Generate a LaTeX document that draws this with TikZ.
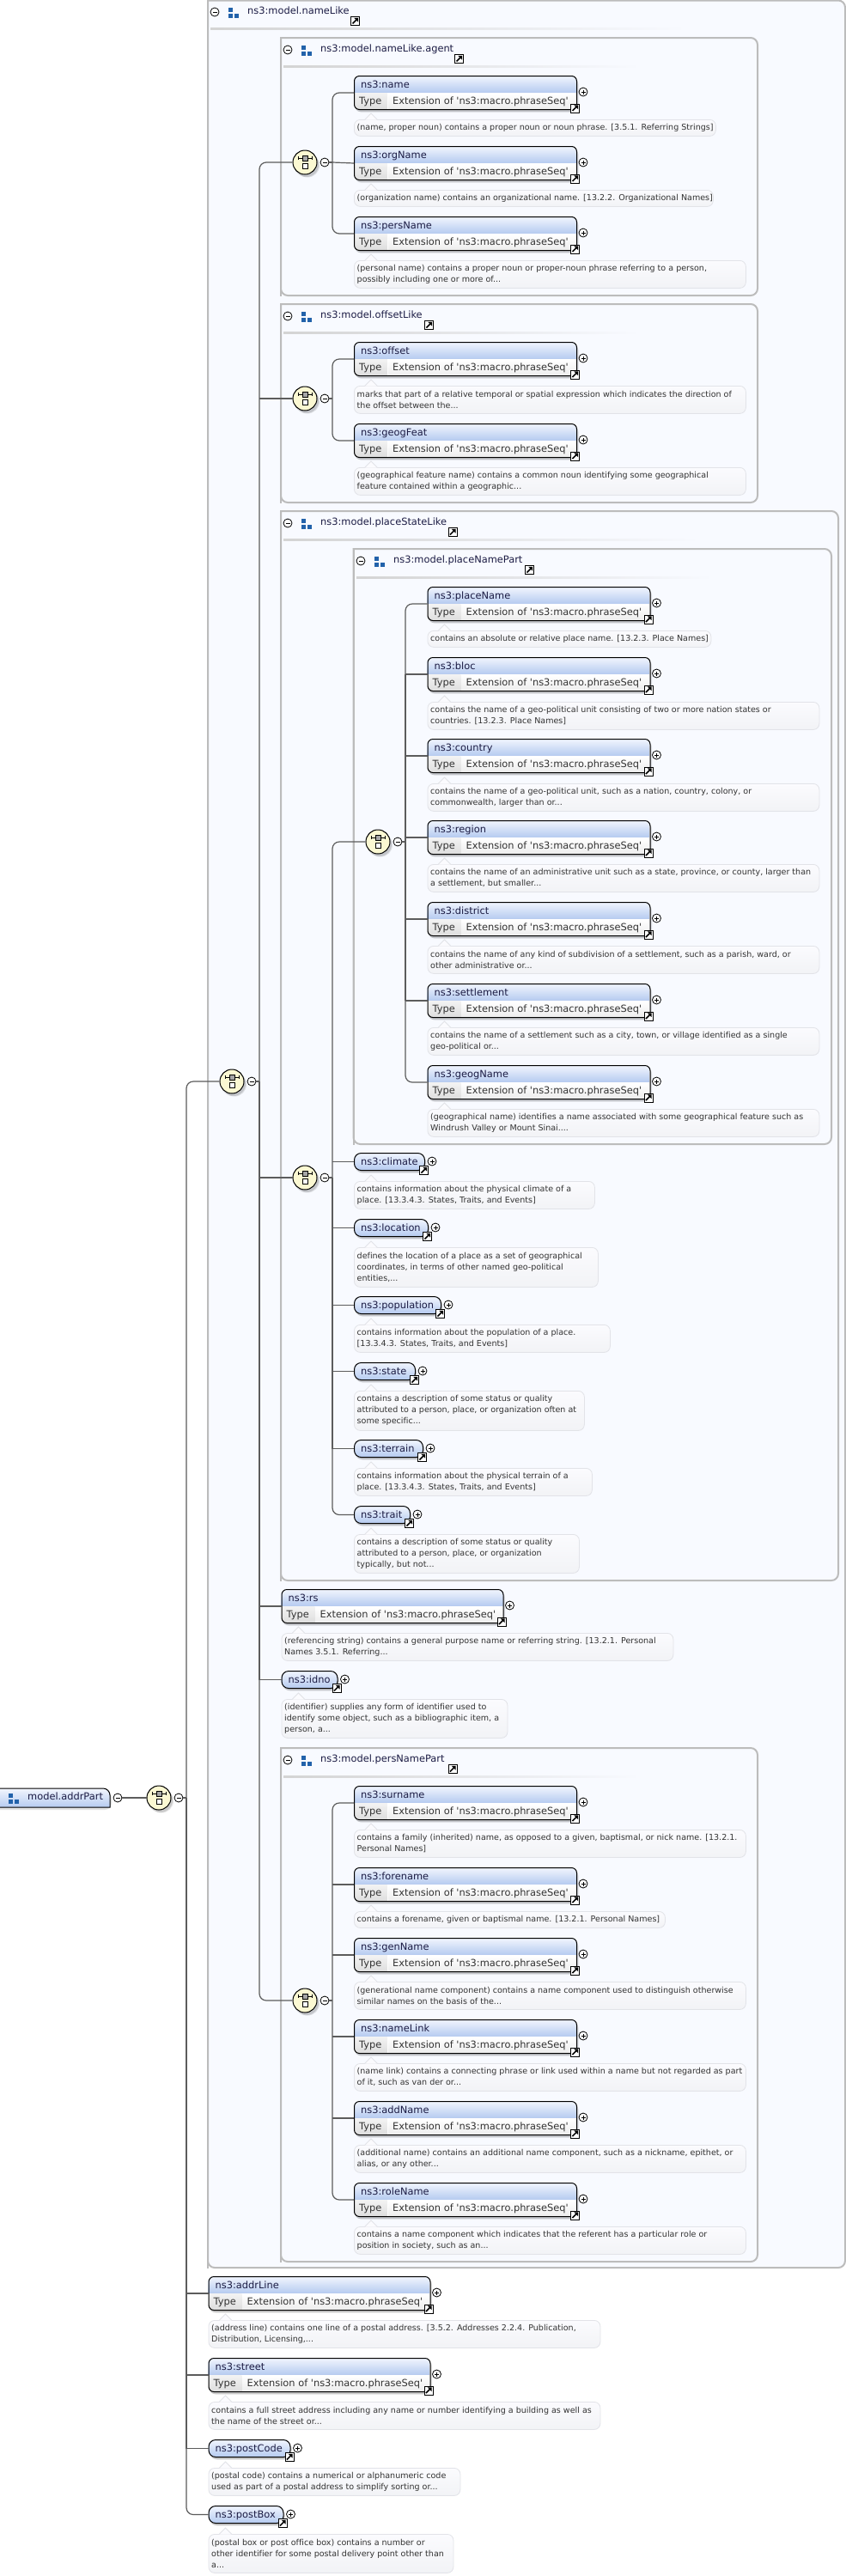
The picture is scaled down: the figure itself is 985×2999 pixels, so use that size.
\documentclass[tikz,border=0pt]{standalone}
\usepackage{fontspec}
\newfontfamily\djv[Ligatures=NoCommon]{DejaVu Sans}
\usetikzlibrary{calc}
\definecolor{boxfill}{HTML}{F8FAFF}
\definecolor{boxline}{HTML}{BCBCBC}
\definecolor{connc}{HTML}{5C5C5C}
\definecolor{hdtop}{HTML}{F2F6FE}
\definecolor{hdbot}{HTML}{B6CBF0}
\definecolor{bubtop}{HTML}{FBFBFE}
\definecolor{bubbot}{HTML}{F2F3F6}
\definecolor{bubline}{HTML}{E2E3E8}
\definecolor{compfill}{HTML}{FBF8D2}
\definecolor{iconblue}{HTML}{2262AA}
\definecolor{namec}{HTML}{1C1C44}
\definecolor{descc}{HTML}{333333}
\newcommand\elfs{\djv\fontsize{11.4}{13}\selectfont}
\newcommand\defs{\djv\fontsize{9.55}{13}\selectfont}
\tikzset{
  conn/.style={draw=connc,line width=1.2pt},
  busw/.style={draw=connc,line width=2.1pt},
  round bus/.style={conn,rounded corners=8pt},
  elemshape/.style={draw=black,line width=1pt,rounded corners=6pt,inner sep=0pt,anchor=north west},
  elname/.style={anchor=base west,inner sep=0pt,font=\elfs,text=namec},
  eltype/.style={anchor=base west,inner sep=0pt,font=\elfs,text=descc},
  desctext/.style={anchor=west,inner sep=0pt,font=\defs,text=descc,align=left},
  descbox/.style={anchor=north west,inner sep=0pt,draw=bubline,line width=.8pt,rounded corners=7pt,top color=bubtop,bottom color=bubbot},
  toggle/.style={circle,draw=black,line width=.8pt,fill=white,minimum size=10pt,inner sep=0pt},
  jumpbox/.style={rectangle,draw=black,line width=1pt,fill=white,minimum size=10pt,inner sep=0pt},
  compo/.style={circle,draw=black,line width=1pt,fill=compfill,minimum size=28pt,inner sep=0pt},
  groupline/.style={draw=boxline,line width=2pt,fill=boxfill},
  softshadow/.style={fill=black,opacity=.11}
}
% ------------ small parts
\newcommand\plusmark[3]{\node[toggle] (#1) at (#2,#3) {};
  \draw[line width=.7pt] ([xshift=-2.5pt]#1.center) -- ([xshift=2.5pt]#1.center);
  \draw[line width=.7pt] ([yshift=-2.5pt]#1.center) -- ([yshift=2.5pt]#1.center);}
\newcommand\minusmark[3]{\node[toggle] (#1) at (#2,#3) {};
  \draw[line width=.7pt] ([xshift=-2.5pt]#1.center) -- ([xshift=2.5pt]#1.center);}
\newcommand\jump[3]{\node[jumpbox] (#1) at (#2,#3) {};
  \begin{scope}[shift={(#2,#3)}]
    \draw[line width=1.5pt,black] (-3,3) -- (1.5,-1.5);
    \fill[black] (3.6,-3.6) -- (-1.2,-3.6) -- (3.6,1.2) -- cycle;
  \end{scope}}
\newcommand\grpicon[2]{\begin{scope}[shift={(#1,#2)}]
    \fill[iconblue] (0,0) rectangle (5,5);
    \fill[iconblue] (0,7) rectangle (5,12);
    \fill[iconblue] (7,7) rectangle (12,12);
  \end{scope}}
% group box: x1 y1 x2 y2
\newcommand\groupbox[4]{\draw[groupline] (#1,#2) [rounded corners=8pt] -- (#3,#2) -- (#3,#4) -- (#1,#4) [sharp corners] -- cycle;
  \draw[groupline,fill=none] (#1-1,#2) -- (#1,#2) -- (#1,#4) -- (#1-1,#4);}
% group head: id x(box left) y(head centre) label jumpleft sepend
\newcommand\grouphead[6]{
  \minusmark{#1-m}{#2+8}{#3}
  \grpicon{#2+24}{#3-5.5}
  \node[elname,anchor=mid west] (#1) at (#2+46,#3) {#4};
  \jump{#1-j}{#5+5.5}{#3+10.5}
  \shade[left color=boxline!65,right color=boxfill] (#2+3,#3+18) rectangle (#6,#3+20);
}
% compositor: id x y
\newcommand\compositor[3]{
  \fill[softshadow] (#2+1.5,#3+2.5) circle (14.5pt);
  \fill[softshadow] (#2+3,#3+3.5) circle (14pt);
  \node[compo] (#1) at (#2,#3) {};
  \begin{scope}[shift={(#2,#3)}]
    \draw[line width=.9pt] (-8,-5) -- (8,-5);
    \draw[line width=.9pt] (-8,-7) -- (-8,-3) (8,-7) -- (8,-3);
    \filldraw[fill=black!35,draw=black,line width=.6pt] (-3,-8) rectangle (3,-2);
    \filldraw[fill=white,draw=black,line width=.9pt] (-3,1) rectangle (3.3,7.5);
  \end{scope}
  \minusmark{#1-m}{#2+23}{#3}
}
% typed element: id x top width label
\newcommand\elemT[5]{\begin{scope}[shift={(#2,#3)}]
  \fill[softshadow,rounded corners=6pt] (1,3) rectangle (#4+1,42);
  \fill[softshadow,rounded corners=6pt] (2.5,4) rectangle (#4+2.5,42.5);
  \fill[white,rounded corners=6pt] (0,0) rectangle (#4,39);
  \begin{scope}
    \clip[rounded corners=6pt] (0,0) rectangle (#4,39);
    \shade[top color=hdtop,bottom color=hdbot] (0,0) rectangle (#4,19.6);
    \shade[top color=black!5,bottom color=black!13] (0,20.6) rectangle (38.8,39);
    \shade[top color=white,bottom color=black!7] (39.8,20.6) rectangle (#4,39);
  \end{scope}
  \node[elemshape,minimum width=#4pt,minimum height=39pt] (#1) at (0,0) {};
  \node[elname] (#1-l) at (8,14) {#5};
  \node[eltype] (#1-t) at (6,33) {Type};
  \node[eltype] (#1-e) at (45,33) {Extension of 'ns3:macro.phraseSeq'};
  \plusmark{#1-p}{#4+8}{19}
  \jump{#1-j}{#4-1.5}{38}
\end{scope}}
% simple element: id x top width label
\newcommand\elemS[5]{\begin{scope}[shift={(#2,#3)}]
  \fill[softshadow,rounded corners=8pt] (1,3) rectangle (#4+1,23);
  \fill[softshadow,rounded corners=8pt] (2.5,4) rectangle (#4+2.5,23.5);
  \shade[top color=hdtop,bottom color=hdbot,rounded corners=8pt] (0,0) rectangle (#4,20);
  \node[elemshape,rounded corners=8pt,minimum width=#4pt,minimum height=20pt] (#1) at (0,0) {};
  \node[elname] (#1-l) at (8,14) {#5};
  \plusmark{#1-p}{#4+9}{10}
  \jump{#1-j}{#4-0.5}{20.5}
\end{scope}}
% description: id x top width height text
\newcommand\desc[6]{\begin{scope}[shift={(#2,#3)}]
  \node[descbox,minimum width=#4pt,minimum height=#5pt] (#1) at (0,0) {};
  \fill[bubtop] (13,0.6) -- (20,-7) -- (27,0.6) -- cycle;
  \draw[bubline,line width=.8pt] (13,0) -- (20,-7) -- (27,0);
  \node[desctext] (#1-t) at (3.5,#5/2) {#6};
\end{scope}}
\begin{document}
\begin{tikzpicture}[x=1pt,y=-1pt]
\useasboundingbox (0,0) rectangle (985,2999);
\fill[white] (0,0) rectangle (985,2999);

% ---------- group boxes
\groupbox{242}{0.5}{984}{2640}
\grouphead{gName}{242}{14}{ns3:model.nameLike}{408}{800}
\groupbox{327}{44}{882}{344}
\grouphead{gAgent}{327}{58}{ns3:model.nameLike.agent}{529}{745}
\groupbox{327}{354}{882}{585}
\grouphead{gOffset}{327}{368}{ns3:model.offsetLike}{494}{745}
\groupbox{327}{595}{976}{1840}
\grouphead{gPlace}{327}{609}{ns3:model.placeStateLike}{521.5}{815}
\groupbox{411.5}{639}{968}{1332}
\grouphead{gPName}{412}{653}{ns3:model.placeNamePart}{611}{830}
\groupbox{327}{2035}{882}{2633}
\grouphead{gPers}{327}{2049}{ns3:model.persNamePart}{521.5}{745}

% ---------- agent
\elemT{name}{412}{88}{259}{ns3:name}
\desc{dname}{412}{139}{421}{19}{(name, proper noun) contains a proper noun or noun phrase. [3.5.1. Referring Strings]}
\elemT{orgName}{412}{170}{259}{ns3:orgName}
\desc{dorg}{412}{221}{418}{19}{(organization name) contains an organizational name. [13.2.2. Organizational Names]}
\elemT{persName}{412}{252}{259}{ns3:persName}
\desc{dpers}{412}{303}{456}{32}{(personal name) contains a proper noun or proper-noun phrase referring to a person,\\possibly including one or more of...}
% ---------- offset
\elemT{offset}{412}{398}{259}{ns3:offset}
\desc{doffset}{412}{449}{456}{32}{marks that part of a relative temporal or spatial expression which indicates the direction of\\the offset between the...}
\elemT{geogFeat}{412}{493}{259}{ns3:geogFeat}
\desc{dgeogf}{412}{544}{456}{32}{(geographical feature name) contains a common noun identifying some geographical\\feature contained within a geographic...}
% ---------- place name part
\elemT{placeName}{497.5}{683}{259}{ns3:placeName}
\desc{dplace}{497.5}{734}{330}{19}{contains an absolute or relative place name. [13.2.3. Place Names]}
\elemT{bloc}{497.5}{765}{259}{ns3:bloc}
\desc{dbloc}{497.5}{817}{456}{32}{contains the name of a geo-political unit consisting of two or more nation states or\\countries. [13.2.3. Place Names]}
\elemT{country}{497.5}{860}{259}{ns3:country}
\desc{dcountry}{497.5}{912}{456}{32}{contains the name of a geo-political unit, such as a nation, country, colony, or\\commonwealth, larger than or...}
\elemT{region}{497.5}{955}{259}{ns3:region}
\desc{dregion}{497.5}{1006}{456}{32}{contains the name of an administrative unit such as a state, province, or county, larger than\\a settlement, but smaller...}
\elemT{district}{497.5}{1050}{259}{ns3:district}
\desc{ddistrict}{497.5}{1101}{456}{32}{contains the name of any kind of subdivision of a settlement, such as a parish, ward, or\\other administrative or...}
\elemT{settlement}{497.5}{1145}{259}{ns3:settlement}
\desc{dsettle}{497.5}{1196}{456}{32}{contains the name of a settlement such as a city, town, or village identified as a single\\geo-political or...}
\elemT{geogName}{497.5}{1240}{259}{ns3:geogName}
\desc{dgeogn}{497.5}{1291}{456}{32}{(geographical name) identifies a name associated with some geographical feature such as\\Windrush Valley or Mount Sinai....}
% ---------- place state simple
\elemS{climate}{412}{1342}{82}{ns3:climate}
\desc{dclimate}{412}{1375}{280}{32}{contains information about the physical climate of a\\place. [13.3.4.3. States, Traits, and Events]}
\elemS{location}{412}{1419}{86}{ns3:location}
\desc{dlocation}{412}{1452}{284}{46}{defines the location of a place as a set of geographical\\coordinates, in terms of other named geo-political\\entities,...}
\elemS{population}{412}{1509}{101}{ns3:population}
\desc{dpop}{412}{1542}{298}{32}{contains information about the population of a place.\\{}[13.3.4.3. States, Traits, and Events]}
\elemS{state}{412}{1586}{71}{ns3:state}
\desc{dstate}{412}{1619}{268}{46}{contains a description of some status or quality\\attributed to a person, place, or organization often at\\some specific...}
\elemS{terrain}{412}{1676}{80}{ns3:terrain}
\desc{dterrain}{412}{1709}{277}{32}{contains information about the physical terrain of a\\place. [13.3.4.3. States, Traits, and Events]}
\elemS{trait}{412}{1753}{65}{ns3:trait}
\desc{dtrait}{412}{1786}{262}{45}{contains a description of some status or quality\\attributed to a person, place, or organization\\typically, but not...}
% ---------- rs, idno
\elemT{rs}{327.5}{1850}{258}{ns3:rs}
\desc{drs}{327.5}{1901}{456}{32}{(referencing string) contains a general purpose name or referring string. [13.2.1. Personal\\Names 3.5.1. Referring...}
\elemS{idno}{327.5}{1945}{65}{ns3:idno}
\desc{didno}{327.5}{1978}{263}{45}{(identifier) supplies any form of identifier used to\\identify some object, such as a bibliographic item, a\\person, a...}
% ---------- pers name part
\elemT{surname}{412}{2079}{259}{ns3:surname}
\desc{dsur}{412}{2130}{456}{32}{contains a family (inherited) name, as opposed to a given, baptismal, or nick name. [13.2.1.\\Personal Names]}
\elemT{forename}{412}{2174}{259}{ns3:forename}
\desc{dfore}{412}{2225}{362}{19}{contains a forename, given or baptismal name. [13.2.1. Personal Names]}
\elemT{genName}{412}{2256}{259}{ns3:genName}
\desc{dgen}{412}{2307}{456}{32}{(generational name component) contains a name component used to distinguish otherwise\\similar names on the basis of the...}
\elemT{nameLink}{412}{2351}{259}{ns3:nameLink}
\desc{dlink}{412}{2402}{456}{32}{(name link) contains a connecting phrase or link used within a name but not regarded as part\\of it, such as van der or...}
\elemT{addName}{412}{2446}{259}{ns3:addName}
\desc{dadd}{412}{2497}{456}{32}{(additional name) contains an additional name component, such as a nickname, epithet, or\\alias, or any other...}
\elemT{roleName}{412}{2541}{259}{ns3:roleName}
\desc{drole}{412}{2592}{456}{32}{contains a name component which indicates that the referent has a particular role or\\position in society, such as an...}
% ---------- address level
\elemT{addrLine}{242.5}{2650}{258}{ns3:addrLine}
\desc{daddr}{242.5}{2701}{456}{32}{(address line) contains one line of a postal address. [3.5.2. Addresses 2.2.4. Publication,\\Distribution, Licensing,...}
\elemT{street}{242.5}{2745}{258}{ns3:street}
\desc{dstreet}{242.5}{2796}{456}{32}{contains a full street address including any name or number identifying a building as well as\\the name of the street or...}
\elemS{postCode}{242.5}{2840}{95}{ns3:postCode}
\desc{dcode}{242.5}{2873}{293}{32}{(postal code) contains a numerical or alphanumeric code\\used as part of a postal address to simplify sorting or...}
\elemS{postBox}{242.5}{2917}{87}{ns3:postBox}
\desc{dbox}{242.5}{2950}{285}{45}{(postal box or post office box) contains a number or\\other identifier for some postal delivery point other than\\a...}

% ---------- root
\fill[softshadow] (-2,2085) [rounded corners=8pt] -- (130,2085) -- (130,2107) [sharp corners] -- (-2,2107) -- cycle;
\shade[top color=hdtop,bottom color=hdbot] (-2,2082) [rounded corners=8pt] -- (128,2082) [sharp corners] -- (128,2104) -- (-2,2104) -- cycle;
\draw[black,line width=1pt] (-2,2082) [rounded corners=8pt] -- (128,2082) [sharp corners] -- (128,2104) -- (-2,2104) -- cycle;
\grpicon{10}{2088}
\node[elname,anchor=mid west] (root) at (32,2093) {model.addrPart};
\minusmark{rootm}{137}{2093}

% ---------- compositors
\compositor{cA}{185}{2093}
\compositor{cB}{270}{1259}
\compositor{cAgent}{355}{189}
\compositor{cOffset}{355}{464}
\compositor{cPlace}{355}{1371}
\compositor{cPName}{440}{980}
\compositor{cPers}{355}{2329}

% ---------- bus anchors
\coordinate (busA) at (217,2093);
\coordinate (busB) at (302,1259);
\coordinate (busAgent) at (387,189);
\coordinate (busOffset) at (387,464);
\coordinate (busPlace) at (387,1371);
\coordinate (busPName) at (472,980);
\coordinate (busPers) at (387,2329);

% ---------- connectors
\draw[conn] (rootm.east) -- (cA.west);
\draw[conn] (cA-m.east) -- (busA);
\draw[round bus] (cB.west) -| (busA) |- (postBox.west);
\draw[busw] (busA) -- (busA |- postCode.west);
\draw[conn] (busA |- addrLine.west) -- (addrLine.west);
\draw[conn] (busA |- street.west) -- (street.west);
\draw[conn] (busA |- postCode.west) -- (postCode.west);

\draw[conn] (cB-m.east) -- (busB);
\draw[round bus] (cAgent.west) -| (busB) |- (cPers.west);
\draw[busw] (busB) -- (busB |- idno.west);
\draw[conn] (busB |- cOffset.west) -- (cOffset.west);
\draw[conn] (busB |- cPlace.west) -- (cPlace.west);
\draw[conn] (busB |- rs.west) -- (rs.west);
\draw[conn] (busB |- idno.west) -- (idno.west);

\draw[conn] (cAgent-m.east) -- (busAgent);
\draw[round bus] (name.west) -| (busAgent) |- (persName.west);
\draw[conn] (busAgent) -- (orgName.west);

\draw[conn] (cOffset-m.east) -- (busOffset);
\draw[round bus] (offset.west) -| (busOffset) |- (geogFeat.west);

\draw[conn] (cPlace-m.east) -- (busPlace);
\draw[round bus] (cPName.west) -| (busPlace) |- (trait.west);
\draw[busw] (busPlace) -- (busPlace |- terrain.west);
\draw[conn] (busPlace |- climate.west) -- (climate.west);
\draw[conn] (busPlace |- location.west) -- (location.west);
\draw[conn] (busPlace |- population.west) -- (population.west);
\draw[conn] (busPlace |- state.west) -- (state.west);
\draw[conn] (busPlace |- terrain.west) -- (terrain.west);

\draw[conn] (cPName-m.east) -- (busPName);
\draw[round bus] (placeName.west) -| (busPName) |- (geogName.west);
\draw[busw] (busPName |- bloc.west) -- (busPName |- settlement.west);
\draw[conn] (busPName |- bloc.west) -- (bloc.west);
\draw[conn] (busPName |- country.west) -- (country.west);
\draw[conn] (busPName |- region.west) -- (region.west);
\draw[conn] (busPName |- district.west) -- (district.west);
\draw[conn] (busPName |- settlement.west) -- (settlement.west);

\draw[conn] (cPers-m.east) -- (busPers);
\draw[round bus] (surname.west) -| (busPers) |- (roleName.west);
\draw[conn] (busPers |- forename.west) -- (forename.west);
\draw[conn] (busPers |- genName.west) -- (genName.west);
\draw[conn] (busPers |- nameLink.west) -- (nameLink.west);
\draw[conn] (busPers |- addName.west) -- (addName.west);
\end{tikzpicture}
\end{document}
